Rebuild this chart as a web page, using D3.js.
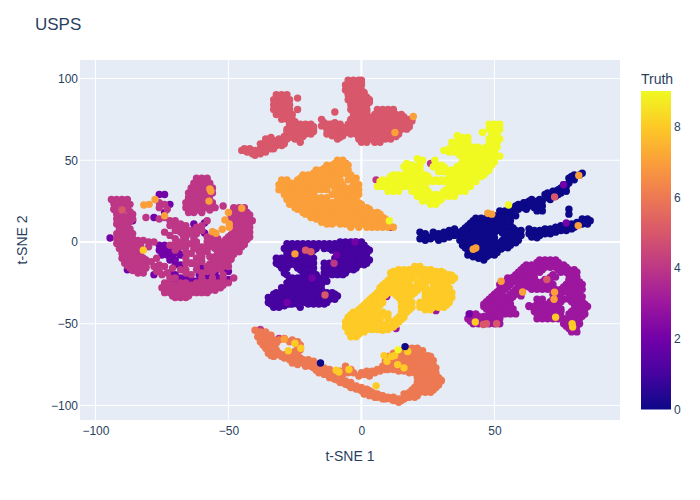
<!DOCTYPE html>
<html><head><meta charset="utf-8">
<script src="https://cdn.jsdelivr.net/npm/d3@7/dist/d3.min.js"></script>
<style>html,body{margin:0;padding:0;background:#fff}svg{display:block}text{font-family:"Liberation Sans",Arial,sans-serif}</style>
</head><body><svg id="c" width="700" height="500"></svg>
<script>
const titleText="USPS", xTitle="t-SNE 1", yTitle="t-SNE 2", barTitle="Truth";
const xTicks=[-100,-50,0,50], yTicks=[-100,-50,0,50,100], barTicks=[0,2,4,6,8];
const xRange=[-105.8,97.2], yRange=[-108.9,111.3], barRange=[0,9];
const plasma=["#0d0887","#46039f","#7201a8","#9c179e","#bd3786","#d8576b","#ed7953","#fb9f3a","#fdca26","#f0f921"];

const class0=[22,6,22,2,24,5,24,1,26,2,27,6,29,1,29,5,31,6,31,2,33,7,33,3,35,8,35,4,
52,19,54,19,56,19,48,16,50,16,52,16,54,16,56,16,58,16,42,13,44,13,46,13,48,13,50,13,52,13,54,13,56,13,
40,10,42,10,44,10,46,10,48,10,50,10,52,10,54,10,56,10,38,7,40,7,42,7,44,7,46,7,48,7,50,7,52,7,54,7,56,7,58,7,60,7,
37,4,39,4,41,4,43,4,45,4,47,4,49,4,54,4,56,4,58,4,60,4,37,1,39,1,41,1,43,1,45,1,47,1,49,1,53,1,55,1,57,1,59,1,
38,-2,40,-2,42,-2,44,-2,46,-2,48,-2,50,-2,52,-2,54,-2,56,-2,40,-5,42,-5,44,-5,46,-5,48,-5,50,-5,52,-4,
40,-8,42,-8,44,-8,46,-8,48,-8,50,-8,44,-10,46,-11,
57,20,59,20,59,23,61,21,61,24,63,22,63,25,65,24,65,21,67,23,67,26,68,19,66,19,69,29,71,29,71,26,73,31,73,28,75,33,75,30,76,35,77,31,78,36,78,39,80,38,80,41,82,41,83,42,78,20,78,17,
63,5,63,8,65,4,65,7,67,4,67,7,69,5,69,8,71,5,71,8,73,6,73,9,75,7,75,10,77,7,77,10,79,8,79,11,81,10,81,12,83,11,83,14,85,11,85,14,86,13,
52.5,-4.3,
43,14.5,45,14.5,47,14.5,49,14.5,51,14.5,53,14.5,55,14.5,41,11.5,43,11.5,45,11.5,47,11.5,49,11.5,51,11.5,53,11.5,55,11.5,39,8.5,41,8.5,43,8.5,45,8.5,47,8.5,49,8.5,51,8.5,53,8.5,55,8.5,57,8.5,
38,5.5,40,5.5,42,5.5,44,5.5,46,5.5,48,5.5,50,5.5,53,5.5,55,5.5,57,5.5,59,5.5,38,2.5,40,2.5,42,2.5,44,2.5,46,2.5,48,2.5,50,2.5,54,2.5,56,2.5,58,2.5,38,-.5,40,-.5,42,-.5,44,-.5,46,-.5,48,-.5,50,-.5,52,-.5,54,-.5,56,-.5,58,-.5,
39,-3.5,41,-3.5,43,-3.5,45,-3.5,47,-3.5,49,-3.5,51,-3.5,53,-3.5,55,-3.5,41,-6.5,43,-6.5,45,-6.5,47,-6.5,49,-6.5,51,-6.5,42,-9,45,-9,47,-9,
56,21,58,22,60,22,62,24,62,20,64,23,64,26,66,25,66,22,68,25,68,22,70,27,70,30,72,28,72,31,74,29,74,32,76,32,77,34,79,40,
23,3.5,25,3,27,3.5,28,3,30,3.5,32,4.5,34,5.5,36,6,64,6,66,5.5,68,6,70,6.5,72,7,74,8,76,8.5,78,9,80,9,82,11,84,12.5,64,3,66,2.5];
const class1=[-8,0,-6,0,-4,0,-2,0,0,0,-28,-1,-26,-1,-24,-1,-22,-1,-20,-1,-18,-1,-16,-1,-14,-1,-12,-1,-10,-1,
-29,-4,-27,-4,-25,-4,-23,-4,-21,-4,-19,-4,-17,-4,-14,-4,-12,-4,-10,-4,-8,-4,-6,-4,-4,-4,-2,-4,0,-4,2,-4,
-28,-7,-26,-7,-22,-7,-20,-7,-8,-7,-6,-7,-4,-7,-2,-7,0,-7,2,-7,
-32,-10,-30,-10,-28,-10,-26,-10,-24,-10,-22,-10,-20,-10,-18,-10,-10,-10,-8,-10,-6,-10,-4,-10,-2,-10,0,-10,2,-10,
-32,-13,-30,-13,-28,-13,-26,-13,-24,-13,-22,-13,-20,-13,-18,-13,-14,-13,-12,-13,-10,-13,-8,-13,-6,-13,-4,-13,-2,-13,0,-13,2,-13,
-30,-16,-28,-16,-24,-16,-22,-16,-20,-16,-18,-16,-14,-16,-12,-16,-10,-16,-8,-16,-6,-16,-4,-16,-2,-16,
-29,-19,-22,-19,-20,-19,-18,-19,-14,-19,-12,-19,-10,-19,-8,-19,-6,-19,
-26,-22,-24,-22,-22,-22,-20,-22,-18,-22,-16,-22,-13,-24,
-28,-25,-26,-25,-24,-25,-22,-25,-20,-25,-18,-25,-16,-25,-30,-28,-28,-28,-26,-28,-24,-28,-22,-28,-20,-28,-18,-28,-16,-28,
-32,-31,-30,-31,-28,-31,-26,-31,-24,-31,-22,-31,-20,-31,-18,-31,-16,-31,-13,-31,-11,-31,
-35,-34,-33,-34,-31,-34,-29,-34,-27,-34,-25,-34,-23,-34,-21,-34,-19,-34,-17,-34,-15,-34,-13,-34,-11,-34,-9,-33,
-35,-37,-33,-37,-31,-37,-29,-37,-27,-37,-25,-37,-23,-37,-21,-37,-19,-37,-17,-37,-15,-37,-13,-37,-33,-40,-31,-40,-29,-39,-27,-38,-23,-40,
-27,-2,-25,-2,-23,-2,-21,-2,-19,-2,-17,-2,-15,-2,-13,-2,-11,-2,-9,-2,-7,-2,-5,-2,-3,-2,-1,-2,1,-2,-28,-5,-26,-5,-24,-5,-20,-5,-18,-5,-11,-5,-9,-5,-7,-5,-5,-5,-3,-5,-1,-5,1,-5,3,-5,
-27,-8,-25,-8,-23,-8,-21,-8,-19,-8,-9,-8,-7,-8,-5,-8,-3,-8,-1,-8,1,-8,-31,-11,-29,-11,-27,-11,-25,-11,-23,-11,-21,-11,-19,-11,-9,-11,-7,-11,-5,-11,-3,-11,-1,-11,1,-11,3,-11,
-31,-14,-29,-14,-27,-14,-25,-14,-23,-14,-21,-14,-19,-14,-13,-14,-11,-14,-9,-14,-7,-14,-5,-14,-3,-14,-1,-14,1,-14,-29,-17,-23,-17,-21,-17,-19,-17,-13,-17,-11,-17,-9,-17,-7,-17,-5,-17,-3,-17,
-28,-20,-21,-20,-19,-20,-17,-20,-13,-20,-11,-20,-9,-20,-7,-20,-27,-23,-25,-23,-23,-23,-21,-23,-19,-23,-17,-23,-15,-23,-27,-26,-25,-26,-23,-26,-21,-26,-19,-26,-17,-26,-15,-26,
-29,-29,-27,-29,-25,-29,-23,-29,-21,-29,-19,-29,-17,-29,-15,-29,-33,-32,-31,-32,-29,-32,-27,-32,-25,-32,-23,-32,-21,-32,-19,-32,-17,-32,-15,-32,-12,-32,-10,-32,
-34,-35,-32,-35,-30,-35,-28,-35,-26,-35,-24,-35,-22,-35,-20,-35,-18,-35,-16,-35,-14,-35,-12,-35,-10,-35,-34,-38,-32,-38,-30,-38,-28,-38,-26,-38,-24,-38,-20,-38,-18,-38,-16,-38,-14,-38];
const class2=[-76,29,-74,29,-72,23,-74,18,-78,15,-76,-2,-74,-2,-76,-5,-74,-5,-72,-5,-75,-8,-73,-8,-71,-8,-72,-11,-70,-11,-68,-8,-70,-14,-68,-14,-68.6,-7,
-59,11.6,-59,5.5,-63,11,-66,6,-56,-13,-54,-16,-52,-18,-50,-18,-55,-19,-72,-19,-70,-20,-68,-22,-66,-22,-64,-23,-62,-24,-61,-20,-70,-25,
-94.5,2.4,-88,-17,-86,13,-93,20,-78,-20,-49,4,-60,-16,-64,-13,-58,-21,-54,-22,-50,-23];
const class3=[67,-11,69,-11,71,-11,73,-11,62,-14,64,-14,66,-14,68,-14,70,-14,72,-14,74,-14,76,-14,60,-17,62,-17,64,-17,66,-17,68,-17,74,-17,76,-17,78,-17,80,-17,
58,-20,60,-20,62,-20,64,-20,72,-20,78,-20,80,-20,55,-22,57,-23,59,-23,61,-23,63,-23,65,-23,69,-23,71,-23,78,-23,80,-23,
52,-26,54,-26,56,-26,60,-26,62,-26,64,-26,66,-26,68,-26,70,-26,72,-26,77,-26,79,-26,81,-26,83,-26,
52,-29,54,-29,58,-29,60,-29,64,-29,66,-29,68,-29,70,-29,73,-29,75,-29,77,-29,79,-29,81,-29,83,-29,
50,-32,52,-32,56,-32,58,-32,72,-32,74,-32,78,-32,80,-32,82,-32,48,-35,50,-35,52,-35,54,-35,56,-35,60,-33,66,-35,68,-35,72,-35,74,-35,76,-35,78,-35,80,-35,82,-35,
46,-38,48,-38,50,-38,54,-38,56,-38,63,-39,66,-38,68,-38,70,-38,72,-38,74,-38,80,-38,82,-38,84,-38,
47,-41,49,-41,51,-41,53,-41,55,-41,57,-41,65,-41,67,-41,69,-41,71,-41,73,-41,75,-41,80,-41,82,-41,84,-41,
41,-44,43,-44,48,-44,50,-44,54,-44,56,-44,58,-44,66,-44,68,-44,70,-44,72,-44,74,-44,78,-44,80,-44,82,-44,84,-44,
40,-47,42,-47,44,-47,46,-47,48,-47,50,-47,52,-47,66,-47,68,-47,70,-47,72,-47,74,-47,76,-47,78,-47,80,-47,82,-47,
42,-50,44,-50,46,-50,48,-50,50,-50,52,-50,76,-50,78,-50,80,-50,82,-50,78,-53,80,-53,79,-55,81,-55,
66,-12.5,68,-12.5,70,-12.5,72,-12.5,74,-12.5,61,-15.5,63,-15.5,65,-15.5,67,-15.5,69,-15.5,71,-15.5,73,-15.5,75,-15.5,77,-15.5,59,-18.5,61,-18.5,63,-18.5,65,-18.5,67,-18.5,75,-18.5,77,-18.5,79,-18.5,81,-18.5,
57,-21.5,59,-21.5,61,-21.5,63,-21.5,65,-21.5,71,-21.5,73,-21.5,79,-21.5,81,-21.5,54,-24.5,56,-24.5,58,-24.5,60,-24.5,62,-24.5,64,-24.5,66,-24.5,68,-24.5,70,-24.5,78,-24.5,80,-24.5,82,-24.5,
53,-27.5,55,-27.5,59,-27.5,61,-27.5,63,-27.5,65,-27.5,67,-27.5,69,-27.5,71,-27.5,76,-27.5,78,-27.5,80,-27.5,82,-27.5,51,-30.5,53,-30.5,57,-30.5,59,-30.5,74,-30.5,76,-30.5,78,-30.5,80,-30.5,82,-30.5,
49,-33.5,51,-33.5,53,-33.5,55,-33.5,57,-33.5,73,-33.5,75,-33.5,79,-33.5,81,-33.5,83,-33.5,47,-36.5,49,-36.5,51,-36.5,53,-36.5,55,-36.5,67,-36.5,71,-36.5,73,-36.5,75,-36.5,79,-36.5,81,-36.5,83,-36.5,
46,-39.5,48,-39.5,50,-39.5,52,-39.5,54,-39.5,56,-39.5,63,-39.5,65,-39.5,67,-39.5,69,-39.5,71,-39.5,73,-39.5,81,-39.5,83,-39.5,85,-39.5,48,-42.5,50,-42.5,52,-42.5,54,-42.5,56,-42.5,65,-42.5,67,-42.5,69,-42.5,71,-42.5,73,-42.5,75,-42.5,79,-42.5,81,-42.5,83,-42.5,
42,-45.5,44,-45.5,46,-45.5,48,-45.5,50,-45.5,52,-45.5,67,-45.5,69,-45.5,71,-45.5,73,-45.5,75,-45.5,79,-45.5,81,-45.5,83,-45.5,41,-48.5,43,-48.5,45,-48.5,47,-48.5,49,-48.5,51,-48.5,77,-48.5,79,-48.5,81,-48.5,77,-51.5,79,-51.5,81,-51.5];
const class4=[-94,26,-92,26,-90,26,-88,26,-93,23,-91,23,-89,23,-87,23,-93,20,-91,20,-88,20,-92,17,-90,17,-86,17,-92,14,-90,14,-88,14,-86,14,-92,11,-90,11,-88,11,-91,8,-89,8,-87,8,
-92,5,-90,5,-88,5,-86,5,-92,2,-90,2,-88,2,-86,2,-92,-1,-90,-1,-88,-1,-86,-1,-91,-4,-89,-4,-87,-4,-84,-4,-90,-7,-88,-7,-86,-7,-84,-7,-90,-10,-88,-10,-86,-10,-84,-10,-82,-10,
-89,-13,-87,-13,-85,-13,-83,-13,-81,-13,-87,-16,-85,-16,-83,-16,-81,-16,-84,-19,-82,-19,
-70,-34,-68,-34,-66,-34,-74,-31,-72,-31,-70,-31,-68,-31,-66,-31,-64,-31,-62,-31,-60,-31,-58,-31,
-75,-28,-73,-28,-71,-28,-69,-28,-67,-28,-65,-28,-63,-28,-61,-28,-59,-28,-57,-28,-55,-28,-53,-28,
-74,-25,-72,-25,-68,-25,-66,-25,-62,-25,-60,-25,-58,-25,-56,-25,-54,-25,-52,-25,-50,-25,-72,-22,-70,-22,-64,-20,-60,-22,-56,-22,-52,-22,-48,-22,
-77,-18,-75,-20,-73,-19,-86,1,-84,1,-82,1,-80,0,-78,0,-85,-2,-83,-2,-80,-3,-83,-9,-81,-11,-79,-12,-77,-10,-76,-14,-78,-15,-81,-15,
-48,21,-46,21,-44,21,-49,18,-47,18,-45,18,-43,18,-49,15,-47,15,-45,15,-43,15,-41,13,-48,12,-46,12,-44,12,-42,12,-48,9,-46,9,-44,9,-42,9,-48,6,-46,6,-44,6,-42,6,
-50,3,-48,3,-46,3,-44,3,-42,3,-52,0,-50,0,-48,0,-46,0,-44,0,-53,-3,-51,-3,-49,-3,-47,-3,-45,-3,-54,-6,-52,-6,-50,-6,-48,-6,-46,-6,-55,-9,-53,-9,-51,-9,-49,-9,
-56,-12,-54,-12,-52,-12,-50,-12,-58,-15,-56,-15,-52,-15,-50,-15,-58,-18,-56,-18,-52,-20,
-58,3,-56,3,-58,0,-56,0,-58,-3,-56,-3,-58,-6,-60,-9,-57,-9,
-74,15,-72,13,-70,13,-68,11,-66,10,-70,10,-66,7,-64,5,-62,5,-68,6,-66,3,-62,9,-60,10,-58,13,-63,2,
-62,39,-60,39,-58,39,-63,36,-61,36,-59,36,-57,36,-64,33,-62,33,-60,33,-58,33,-56,33,-65,30,-63,30,-61,30,-58,30,-56,30,-65,27,-63,27,-61,27,-59,27,-66,24,-64,24,-62,24,-60,24,-58,24,-56,24,
-66,21,-64,21,-62,21,-60,21,-58,21,-55,21,-65,18,-63,18,-60,18,-76,24,-74,23,-76,21,-73,20,-81,15,-76,14,-52,22,
-68,-3,-66,-3,-64,-1,-63,-4,-61,-6,-64,-7,-62,-10,-66,-10,-60,-12,-74,6,-72,4,-70,2,-67,4,-72,-2,-70,-5,-66,-13,
-93,24.5,-91,24.5,-89,24.5,-92,21.5,-90,21.5,-88,21.5,-92,18.5,-90,18.5,-87,18.5,-91,15.5,-89,15.5,-87,15.5,-91,12.5,-89,12.5,-87,12.5,-90,9.5,-88,9.5,-91,6.5,-89,6.5,-87,6.5,-91,3.5,-89,3.5,-87,3.5,-91,.5,-89,.5,-87,.5,
-90,-2.5,-88,-2.5,-86,-2.5,-89,-5.5,-87,-5.5,-85,-5.5,-89,-8.5,-87,-8.5,-85,-8.5,-83,-8.5,-88,-11.5,-86,-11.5,-84,-11.5,-82,-11.5,-88,-14.5,-86,-14.5,-84,-14.5,-82,-14.5,-86,-17.5,-84,-17.5,-82,-17.5,
-71,-33,-69,-33,-67,-33,-65,-33,-73,-29.5,-71,-29.5,-69,-29.5,-67,-29.5,-65,-29.5,-63,-29.5,-61,-29.5,-59,-29.5,-57,-29.5,-55,-29.5,-74,-26.5,-72,-26.5,-70,-26.5,-68,-26.5,-66,-26.5,-64,-26.5,-62,-26.5,-60,-26.5,-58,-26.5,-56,-26.5,-54,-26.5,-52,-26.5,
-48,19.5,-46,19.5,-44,19.5,-48,16.5,-46,16.5,-44,16.5,-42,16.5,-47,13.5,-45,13.5,-43,13.5,-47,10.5,-45,10.5,-43,10.5,-47,7.5,-45,7.5,-43,7.5,-49,4.5,-47,4.5,-45,4.5,-43,4.5,-51,1.5,-49,1.5,-47,1.5,-45,1.5,-43,1.5,
-52,-1.5,-50,-1.5,-48,-1.5,-46,-1.5,-44,-1.5,-53,-4.5,-51,-4.5,-49,-4.5,-47,-4.5,-54,-7.5,-52,-7.5,-50,-7.5,-48,-7.5,-55,-10.5,-53,-10.5,-51,-10.5,-49,-10.5,-57,-13.5,-55,-13.5,-53,-13.5,-51,-13.5,-57,-16.5,-55,-16.5,-53,-16.5,
-62,37.5,-60,37.5,-58,37.5,-62,34.5,-60,34.5,-58,34.5,-63,31.5,-61,31.5,-59,31.5,-57,31.5,-64,28.5,-62,28.5,-60,28.5,-57,28.5,-65,25.5,-63,25.5,-61,25.5,-59,25.5,-57,25.5,-65,22.5,-63,22.5,-61,22.5,-59,22.5,-57,22.5,-65,19.5,-63,19.5,-61,19.5,-57,19.5,
-72,10,-70,7,-68,8,-64,7,-60,7,-62,0,-60,-3,-60,-6,-62,-3,-66,0,-70,-1,-68,0,-66,-6,-64,-13,-62,-14,-68,-17,-66,-17,-62,-17,-60,-19,-74,-15,-76,-18,-54,2,-54,-1,-55,-4,-56,6,-71,-16,-66,-19];
const class5=[-32,90,-30,90,-28,90,-33,87,-31,87,-29,87,-27,87,-24,88,-33,84,-31,84,-29,84,-27,84,-33,81,-31,81,-29,81,-27,81,-24,81,-32,78,-30,78,-28,78,-26,78,-30,75,-28,75,-26,75,
-27,72,-25,72,-23,72,-21,72,-19,72,-28,69,-26,69,-24,69,-22,69,-20,69,-18,69,-27,66,-25,66,-23,66,-21,66,-19,66,-23,61,
-45,56,-43,55,-41,54,-40,53,-38,57,-36,58,-36,63,-34,60,-33,57,-31,61,-29,62,-27,64,-25,63,-24,65,-38,54,
-15,75,-15,71,-13,69,-11,67,-9,66,-7,65,-12,72,-10,73,-8,72,-6,69,-9,69,-11,70,-5,67,-4,66,-13,66,-9,63,-10,79.5,
-5,99,-3,99,-1,99,0,99,-6,96,-4,96,-2,96,0,96,-6,93,-4,93,-2,93,0,93,-5,90,-3,90,-1,90,1,90,-5,87,-3,87,-1,87,1,87,3,87,-4,84,-2,84,0,84,2,84,
-4,81,-2,81,0,81,2,81,6,81,8,81,10,81,12,81,-3,78,-1,78,1,78,5,78,7,78,9,78,11,78,13,78,15,78,
-4,75,-2,75,0,75,2,75,4,75,6,75,8,75,10,75,12,75,14,75,16,75,18,75,-5,72,-3,72,-1,72,1,72,3,72,5,72,7,72,9,72,11,72,13,72,15,72,17,72,19,74,
-3,69,-1,69,1,69,3,69,5,69,7,69,9,69,11,69,13,69,15,69,17,69,-2,66,0,66,2,66,4,66,6,66,8,66,10,66,12,66,14,66,-1,63,1,63,3,63,5,63,7,63,9,63,11,63,0,61,2,61,5,61,7,61,
-31,88.5,-29,88.5,-32,85.5,-30,85.5,-28,85.5,-32,82.5,-30,82.5,-28,82.5,-31,79.5,-29,79.5,-27,79.5,-29,76.5,-27,76.5,-27,73.5,-25,73.5,-26,70.5,-24,70.5,-22,70.5,-20,70.5,-18,70.5,-28,67.5,-26,67.5,-24,67.5,-22,67.5,-20,67.5,-18,67.5,-29,64.5,-27,64.5,-25,64.5,-22,64.5,
-44,57,-42,57,-40,56,-38,55,-36,55,-37,60,-35,62,-34,57,-32,59,-30,59,-31,63,-29,60,-28,63,-33,62,-34,64,-38,60,
-14,73,-13,71,-11,72,-9,71,-7,70,-7,67,-5,69,-10,68,-12,68,-4,68,-8,64,-11,65,
-4,97.5,-2,97.5,0,97.5,-5,94.5,-3,94.5,-1,94.5,-5,91.5,-3,91.5,-1,91.5,1,91.5,-4,88.5,-2,88.5,0,88.5,2,88.5,-3,85.5,-1,85.5,1,85.5,3,85.5,-3,82.5,-1,82.5,1,82.5,-2,79.5,0,79.5,2,79.5,8,79.5,10,79.5,12,79.5,
-3,76.5,-1,76.5,1,76.5,3,76.5,6,76.5,8,76.5,10,76.5,12,76.5,14,76.5,16,76.5,-4,73.5,-2,73.5,0,73.5,2,73.5,4,73.5,6,73.5,8,73.5,10,73.5,12,73.5,14,73.5,16,73.5,18,73.5,
-4,70.5,-2,70.5,0,70.5,2,70.5,4,70.5,6,70.5,8,70.5,10,70.5,12,70.5,14,70.5,16,70.5,18,70.5,-2,67.5,0,67.5,2,67.5,4,67.5,6,67.5,8,67.5,10,67.5,12,67.5,14,67.5,-1,64.5,1,64.5,3,64.5,5,64.5,7,64.5,9,64.5,11,64.5,13,64.5];
const class6=[-40,-54,-38,-55,-36,-55,-34,-57,-39,-58,-37,-58,-35,-59,-33,-60,-38,-61,-36,-62,-34,-62,-32,-62,-36,-65,-34,-65,-32,-66,-35,-68,-33,-68,-33,-70,-31,-68,-29,-69,-27,-69,-25,-67,-24,-64,-31,-60,-29,-59,-26,-60,-24,-61,-23,-63,-23,-66,
-29,-71,-27,-72,-25,-72,-23,-71,-22,-74,-20,-74,-18,-75,-18,-77,-16,-77,-16,-80,-14,-79,-14,-81,-12,-80,-12,-83,-10,-82,-10,-84,-8,-83,-8,-86,-6,-85,-6,-87,-4,-86,-4,-89,-2,-88,-2,-90,0,-89,0,-91,2,-90,2,-92,4,-92,6,-93,6,-95,8,-94,8,-96,10,-95,12,-95,12,-97,14,-96,14,-98,16,-96,16,-93,18,-95,18,-93,20,-95,
-8,-79,-6,-79,-6,-76,-4,-78,-8,-82,-1,-82,1,-81,3,-82,5,-80,7,-79,9,-78,11,-76,13,-76,15,-77,17,-78,19,-78,
18,-92,20,-92,22,-92,24,-92,26,-92,20,-89,22,-89,24,-89,26,-89,28,-89,21,-86,23,-86,25,-86,27,-86,29,-86,30,-85,21,-83,23,-83,25,-83,27,-83,29,-83,22,-80,24,-80,26,-80,28,-80,20,-77,22,-77,24,-77,26,-77,28,-77,
14,-74,16,-74,18,-74,20,-74,22,-74,24,-74,26,-74,12,-71,14,-71,16,-71,18,-71,20,-71,22,-71,24,-71,26,-70,14,-68,16,-68,18,-68,20,-68,22,-68,17,-65,19,-65,21,-65,10,-70,9,-73,10,-76,12,-73,12,-68,
-17,-78.5,-15,-78.5,-13,-81,-11,-83,-9,-84.5,-7,-85.5,-5,-87.5,-3,-88.5,-1,-90,1,-90.5,3,-91,5,-93,7,-94,9,-96,11,-96,13,-97,15,-97,17,-95,19,-94,21,-94,3,-94,5,-95,1,-93,
-28,-70,-26,-70,-24,-73,-22,-72,-20,-72,-26,-74,-24,-75,-21,-76,-19,-76,-18,-73,-16,-75,-14,-77,-12,-78,-10,-80,-8,-81,
0,-80,2,-79,4,-79,6,-78,8,-76,10,-78,12,-78,14,-79,16,-79,18,-80,20,-80,-7,-81,-5,-80,-3,-80,
19,-90.5,21,-90.5,23,-90.5,25,-90.5,27,-90.5,21,-87.5,23,-87.5,25,-87.5,27,-87.5,29,-87.5,22,-84.5,24,-84.5,26,-84.5,28,-84.5,30,-84.5,22,-81.5,24,-81.5,26,-81.5,28,-81.5,21,-78.5,23,-78.5,25,-78.5,27,-78.5,
15,-75.5,17,-75.5,19,-75.5,21,-75.5,23,-75.5,25,-75.5,27,-75.5,13,-72.5,15,-72.5,17,-72.5,19,-72.5,21,-72.5,23,-72.5,25,-72.5,27,-72.5,13,-69.5,15,-69.5,17,-69.5,19,-69.5,21,-69.5,23,-69.5,25,-69.5,15,-66.5,17,-66.5,19,-66.5,21,-66.5,23,-66.5,
-37,-56.5,-35,-57,-38,-59.5,-36,-60,-34,-60,-37,-63,-35,-63.5,-33,-63,-35,-66.5,-33,-66.5,-34,-69.5,-32,-69,-30,-70,-25,-62,-27,-61,-24,-68];
const class7=[-9,50,-7,50,-13,47,-11,47,-9,47,-7,47,-5,47,-17,44,-15,44,-13,44,-11,44,-9,44,-7,44,-5,44,-22,41,-20,41,-18,41,-16,41,-14,41,-12,41,-10,41,-8,41,-4,41,
-30,38,-28,38,-24,38,-22,38,-20,38,-18,38,-16,38,-14,38,-12,38,-10,38,-8,38,-5,38,-3,38,-31,35,-29,35,-27,35,-25,35,-23,35,-21,35,-19,35,-17,35,-15,35,-13,35,-11,35,-9,35,-7,35,-3,35,-1,35,
-31,32,-29,32,-27,32,-25,32,-23,32,-21,32,-19,32,-17,32,-15,32,-13,32,-9,32,-7,32,-5,32,-3,32,-1,32,-29,29,-27,29,-25,29,-23,29,-21,29,-11,29,-9,29,-7,29,-5,29,-3,29,-1,29,
-28,26,-26,26,-24,26,-22,26,-20,26,-18,26,-16,26,-14,26,-9,26,-7,26,-5,26,-3,26,-27,23,-25,23,-23,23,-21,23,-18,23,-16,23,-14,23,-12,23,-10,23,-7,23,-4,23,-2,23,0,23,
-24,20,-22,20,-20,20,-18,20,-16,20,-13,20,-11,20,-9,20,-7,20,-5,20,-3,20,-1,20,1,20,3,20,-21,17,-19,17,-17,17,-15,17,-13,17,-11,17,-9,17,-7,17,-5,17,-3,17,-1,17,1,17,3,17,5,17,7,17,
-17,14,-15,14,-13,14,-11,14,-9,14,-7,14,-5,14,-3,14,-1,14,1,14,3,14,5,14,7,14,9,14,-13,11,-11,11,-8,11,-6,11,-4,11,-2,11,0,11,2,11,4,11,6,11,8,11,10,11,-4,9,-1,9,2,9,4,9,6,9,8,9,10,9,12,9,
-10,48,-8,48,-6,48,-14,45,-12,45,-10,45,-8,45,-6,45,-18,42,-16,42,-14,42,-12,42,-10,42,-8,42,-6,42,-23,39,-21,39,-19,39,-17,39,-15,39,-13,39,-11,39,-9,39,-4,39,-2,39,
-30,36,-28,36,-26,36,-24,36,-22,36,-20,36,-18,36,-16,36,-14,36,-12,36,-10,36,-8,36,-2,36,-30,33,-28,33,-26,33,-24,33,-22,33,-20,33,-18,33,-16,33,-14,33,-10,33,-8,33,-6,33,-4,33,-2,33,
-28,30,-26,30,-24,30,-22,30,-20,30,-18,30,-10,30,-8,30,-6,30,-4,30,-2,30,-27,27,-25,27,-23,27,-21,27,-19,27,-17,27,-15,27,-13,27,-8,27,-6,27,-4,27,-2,27,
-26,24,-24,24,-22,24,-20,24,-17,24,-15,24,-13,24,-11,24,-9,24,-6,24,-3,24,-1,24,-25,21,-23,21,-21,21,-19,21,-17,21,-14,21,-12,21,-10,21,-8,21,-6,21,-4,21,-2,21,0,21,2,21,
-22,18,-20,18,-18,18,-16,18,-14,18,-12,18,-10,18,-8,18,-6,18,-4,18,-2,18,0,18,2,18,4,18,6,18,-19,15,-16,15,-14,15,-12,15,-10,15,-8,15,-6,15,-4,15,-2,15,0,15,2,15,4,15,6,15,8,15,
-15,12,-12,12,-10,12,-7,12,-5,12,-3,12,-1,12,1,12,3,12,5,12,7,12,9,12];
const class8=[20,-15,22,-15,14,-17,16,-17,18,-17,21,-17,24,-17,26,-17,11,-19,13,-19,15,-19,17,-19,19,-19,21,-19,23,-19,25,-19,27,-19,29,-19,31,-19,33,-20,
11,-22,13,-22,15,-22,17,-22,19,-22,23,-22,25,-22,27,-22,29,-22,31,-22,33,-22,35,-22,9,-25,11,-25,13,-25,15,-25,17,-25,21,-25,23,-25,27,-25,29,-25,31,-25,
7,-28,9,-28,11,-28,13,-28,15,-28,17,-28,20,-28,22,-28,24,-28,27,-28,29,-28,31,-28,33,-28,6,-31,8,-31,10,-31,12,-31,14,-31,16,-31,18,-31,20,-31,24,-31,26,-31,28,-31,30,-31,32,-31,34,-31,
4,-34,6,-34,8,-34,14,-34,16,-34,18,-34,24,-34,26,-34,28,-34,30,-34,32,-34,34,-34,2,-37,4,-37,6,-37,8,-37,15,-37,17,-37,19,-37,22,-37,24,-37,26,-37,28,-37,31,-37,33,-37,
0,-40,2,-40,4,-40,6,-40,15,-40,17,-40,19,-40,22,-40,24,-40,26,-40,27,-40,29,-40,31,-40,-3,-43,-1,-43,1,-43,3,-43,5,-43,8,-43,10,-44,15,-43,17,-43,
-5,-46,-3,-46,-1,-46,1,-46,3,-46,5,-46,7,-46,10,-47,14,-46,16,-46,-6,-49,-4,-49,-2,-49,0,-49,2,-49,4,-49,6,-49,12,-49,14,-49,
-6,-52,-4,-52,-2,-52,0,-52,2,-52,4,-52,6,-52,8,-52,10,-52,12,-52,-5,-55,-3,-55,-1,-55,1,-55,8,-54,-4,-58,-2,-58,
12,-18,14,-18,16,-18,18,-18,20,-18,22,-18,24,-18,26,-18,28,-18,30,-18,12,-20.5,14,-20.5,16,-20.5,18,-20.5,20,-20.5,24,-20.5,26,-20.5,28,-20.5,30,-20.5,32,-20.5,34,-20.5,
10,-23.5,12,-23.5,14,-23.5,16,-23.5,18,-23.5,22,-23.5,24,-23.5,26,-23.5,28,-23.5,30,-23.5,32,-23.5,34,-23.5,8,-26.5,10,-26.5,12,-26.5,14,-26.5,16,-26.5,18,-26.5,22,-26.5,24,-26.5,28,-26.5,30,-26.5,32,-26.5,
7,-29.5,9,-29.5,11,-29.5,13,-29.5,15,-29.5,17,-29.5,19,-29.5,21,-29.5,25,-29.5,27,-29.5,29,-29.5,31,-29.5,33,-29.5,5,-32.5,7,-32.5,9,-32.5,13,-32.5,15,-32.5,17,-32.5,19,-32.5,25,-32.5,27,-32.5,29,-32.5,31,-32.5,33,-32.5,
3,-35.5,5,-35.5,7,-35.5,15,-35.5,17,-35.5,25,-35.5,27,-35.5,29,-35.5,31,-35.5,33,-35.5,1,-38.5,3,-38.5,5,-38.5,7,-38.5,16,-38.5,18,-38.5,22,-38.5,24,-38.5,27,-38.5,29,-38.5,32,-38.5,
-1,-41.5,1,-41.5,3,-41.5,5,-41.5,16,-41.5,18,-41.5,24,-41.5,26,-41.5,-4,-44.5,-2,-44.5,0,-44.5,2,-44.5,4,-44.5,6,-44.5,9,-44.5,15,-44.5,-5,-47.5,-3,-47.5,-1,-47.5,1,-47.5,3,-47.5,5,-47.5,7,-47.5,13,-47.5,15,-47.5,
-5,-50.5,-3,-50.5,-1,-50.5,1,-50.5,3,-50.5,5,-50.5,7,-50.5,9,-50.5,11,-50.5,13,-50.5,-4,-53.5,-2,-53.5,0,-53.5,2,-53.5,4,-53.5,6,-53.5,10,-53.5,-3,-56.5,-1,-56.5];
const class9=[48,72,50,72,52,72,48,69,50,69,52,69,45.5,67,49,66,51,66,36,65,38,64,40,64,34,61,36,61,38,61,40,61,49,61,51,61,35,58,37,58,39,58,42,58,44,58,47,58,49,58,51,58,
31,56,33,55,35,55,38,55,40,55,42,55,44,55,46,55,48,55,50,55,52,52.5,38,52,40,52,42,52,44,52,46,52,48,52,50,52,21,51,23,50,27.6,50,38,49,40,49,42,49,44,49,46,49,48,49,50,49,
16,46,18,46,20,46,22,46,27,46,29,46,31,46,36,46,38,46,40,46,42,46,44,46,46,46,48,46,17,43,19,43,21,43,29,43,31,43,33,43,35,43,37,43,39,43,41,43,43,43,45,43,47,43,
11,40,13,40,15,40,17,40,19,40,21,40,23,40,25,40,33,40,35,40,37,40,39,40,41,40,43,40,45,40,7,37,9,37,11,37,13,37,15,37,17,37,19,37,21,37,23,37,25,37,27,37,29,37,31,37,33,37,35,37,37,37,39,37,41,37,43,37,
6,34,8,34,10,34,12,34,14,34,16,34,18,34,20,34,22,34,24,34,33,34,35,34,37,34,39,34,41,34,10,31,12,31,14,31,19,31,21,31,23,31,25,31,31,31,33,31,35,31,37,31,39,31,
21,28,23,28,25,28,27,28,29,28,31,28,33,28,35,28,23,25,25,25,27,25,29,25,26,23,28,23,
49,70,51,70,37,63,39,63,48,63,50,63,52,63,35,60,37,60,39,60,48,60,50,60,33,57,36,57,38,57,41,57,43,57,46,57,48,57,50,57,37,53,39,53,41,53,43,53,45,53,47,53,49,53,39,50,41,50,43,50,45,50,47,50,49,50,22,48,17,48,19,47,28,47,30,47,37,47,39,47,41,47,43,47,45,47,47,47,49,47,
18,44,20,44,22,44,30,44,32,44,34,44,36,44,38,44,40,44,42,44,44,44,46,44,48,44,12,41,14,41,16,41,18,41,20,41,22,41,24,41,34,41,36,41,38,41,40,41,42,41,44,41,46,41,
8,38,10,38,12,38,14,38,16,38,18,38,20,38,22,38,24,38,26,38,28,38,30,38,32,38,34,38,36,38,38,38,40,38,42,38,7,35,9,35,11,35,13,35,15,35,17,35,19,35,21,35,23,35,34,35,36,35,38,35,40,35,
12,32,20,32,22,32,24,32,32,32,34,32,36,32,38,32,22,29,24,29,26,29,28,29,30,29,32,29,34,29,24,26,26,26,28,26,30,26];
const strayUnder=[4,5.5,38,4,39,53,4,26,48,3,9.5,-33.4,3,13,-53,3,28,-42,2,-6,48,2,11,9,4,-38,-53.5,4,-31,-59,4,79.5,39.5,4,45,-4.5,2,41,-5,1,42,-6];
const strayOver=[7,81.7,40.7,2,76,35,5,72.6,27.5,2,77,11.6,7,81.5,10,9,55.3,22.6,7,47.5,17.6,7,49,17,7,43,-3.7,7,42,-4.5,
7,-25,-7.3,5,-21,-5,5,-19,-6,2,-9.3,-8,4,-10.3,-13,2,-18.6,-22,2,-28,-37,5,-13.7,-32.4,2,-2.4,0,
8,8.5,-69.5,8,9.6,-73,8,11.3,-70,8,12.5,-69.5,8,13.6,-75,8,16,-77,8,17.4,-67,9,13.8,-66,0,16.4,-64,8,5.5,-88,8,-9.5,-78.5,8,-8.5,-79.5,8,-4.7,-78,0,-15.4,-74,7,-29,-59.5,8,-25,-62,8,-22.8,-65,8,-27.5,-66.5,
7,52.5,-24,5,69.7,-23,7,60.6,-30.6,7,72.6,-30.8,7,72.4,-35,8,73,-46,8,79.2,-50,8,79.4,-52,8,42.8,-49,5,45.8,-50.5,5,47,-50,5,50.8,-50,
7,19.5,76.7,7,12.6,67,9,10.5,13,2,40.5,-44,
7,-81.8,22.6,7,-79.8,23,7,-77.6,26,7,-74,16,7,-57,32.4,7,-56.6,31,7,-57.3,25,7,-50,18,7,-45,20.6,7,-51.3,13.5,7,-49.7,11,7,-49.7,9,7,-52.3,7.8,7,-56,6.3,7,-54.7,5.3,8,-82,-5,5,-90,19.6];

const W=700,H=500,L=80,R=620,T=60,B=420,tc="#2a3f5f",bg="#e5ecf6";
const svg=d3.select("#c");
const x=d3.scaleLinear().domain(xRange).range([L,R]);
const y=d3.scaleLinear().domain(yRange).range([B,T]);
const cs=d3.scaleLinear().domain(plasma.map((_,i)=>i)).range(plasma);
svg.append("rect").attr("width",W).attr("height",H).attr("fill","#fff");
svg.append("rect").attr("x",L).attr("y",T).attr("width",R-L).attr("height",B-T).attr("fill",bg);
svg.append("g").selectAll("line").data(xTicks).join("line").attr("x1",d=>x(d)).attr("x2",d=>x(d)).attr("y1",T).attr("y2",B).attr("stroke","#fff").attr("stroke-width",d=>d===0?2:1);
svg.append("g").selectAll("line").data(yTicks).join("line").attr("y1",d=>y(d)).attr("y2",d=>y(d)).attr("x1",L).attr("x2",R).attr("stroke","#fff").attr("stroke-width",d=>d===0?2:1);
svg.append("clipPath").attr("id","p").append("rect").attr("x",L).attr("y",T).attr("width",R-L).attr("height",B-T);

const pts=[];
const addFlat=(a,c)=>{for(let i=0;i<a.length;i+=2)pts.push({c,x:a[i],y:a[i+1]});};
const addTrip=a=>{for(let i=0;i<a.length;i+=3)pts.push({c:a[i],x:a[i+1],y:a[i+2]});};
addTrip(strayUnder);
[class0,class1,class2,class3,class4,class5,class6,class7,class8,class9].forEach((a,i)=>addFlat(a,i));
addTrip(strayOver);
svg.append("g").attr("clip-path","url(#p)").selectAll("circle").data(pts).join("circle")
 .attr("cx",d=>x(d.x)).attr("cy",d=>y(d.y)).attr("r",3.7).attr("fill",d=>cs(d.c));

const ax=svg.append("g").attr("transform",`translate(0,${B})`).call(d3.axisBottom(x).tickValues(xTicks).tickSize(0).tickPadding(6));
const ay=svg.append("g").attr("transform",`translate(${L},0)`).call(d3.axisLeft(y).tickValues(yTicks).tickSize(0).tickPadding(2));
[ax,ay].forEach(g=>{g.select(".domain").remove();g.selectAll("text").attr("fill",tc).style("font-size","12px").style("font-family",'"Liberation Sans",Arial,sans-serif');});

const txt=(s,px,py,size,anchor)=>svg.append("text").text(s).attr("x",px).attr("y",py).attr("fill",tc).style("font-size",size+"px").attr("text-anchor",anchor||"start");
txt(titleText,35,30,17);
txt(xTitle,350,461,14,"middle");
txt(yTitle,0,0,14,"middle").attr("transform","translate(27,240) rotate(-90)");
txt(barTitle,641,84,14);

const by=d3.scaleLinear().domain(barRange).range([409.5,91]);
const grad=svg.append("defs").append("linearGradient").attr("id","g").attr("x1",0).attr("x2",0).attr("y1",1).attr("y2",0);
plasma.forEach((c,i)=>grad.append("stop").attr("offset",i/9).attr("stop-color",c));
svg.append("rect").attr("x",641).attr("width",30).attr("y",by(9)).attr("height",by(0)-by(9)).attr("fill","url(#g)");
svg.append("g").attr("transform","translate(671,0)").call(d3.axisRight(by).tickValues(barTicks).tickSize(0).tickPadding(3)).call(g=>{g.select(".domain").remove();g.selectAll("text").attr("fill",tc).style("font-size","12px").style("font-family",'"Liberation Sans",Arial,sans-serif');});
</script></body></html>
